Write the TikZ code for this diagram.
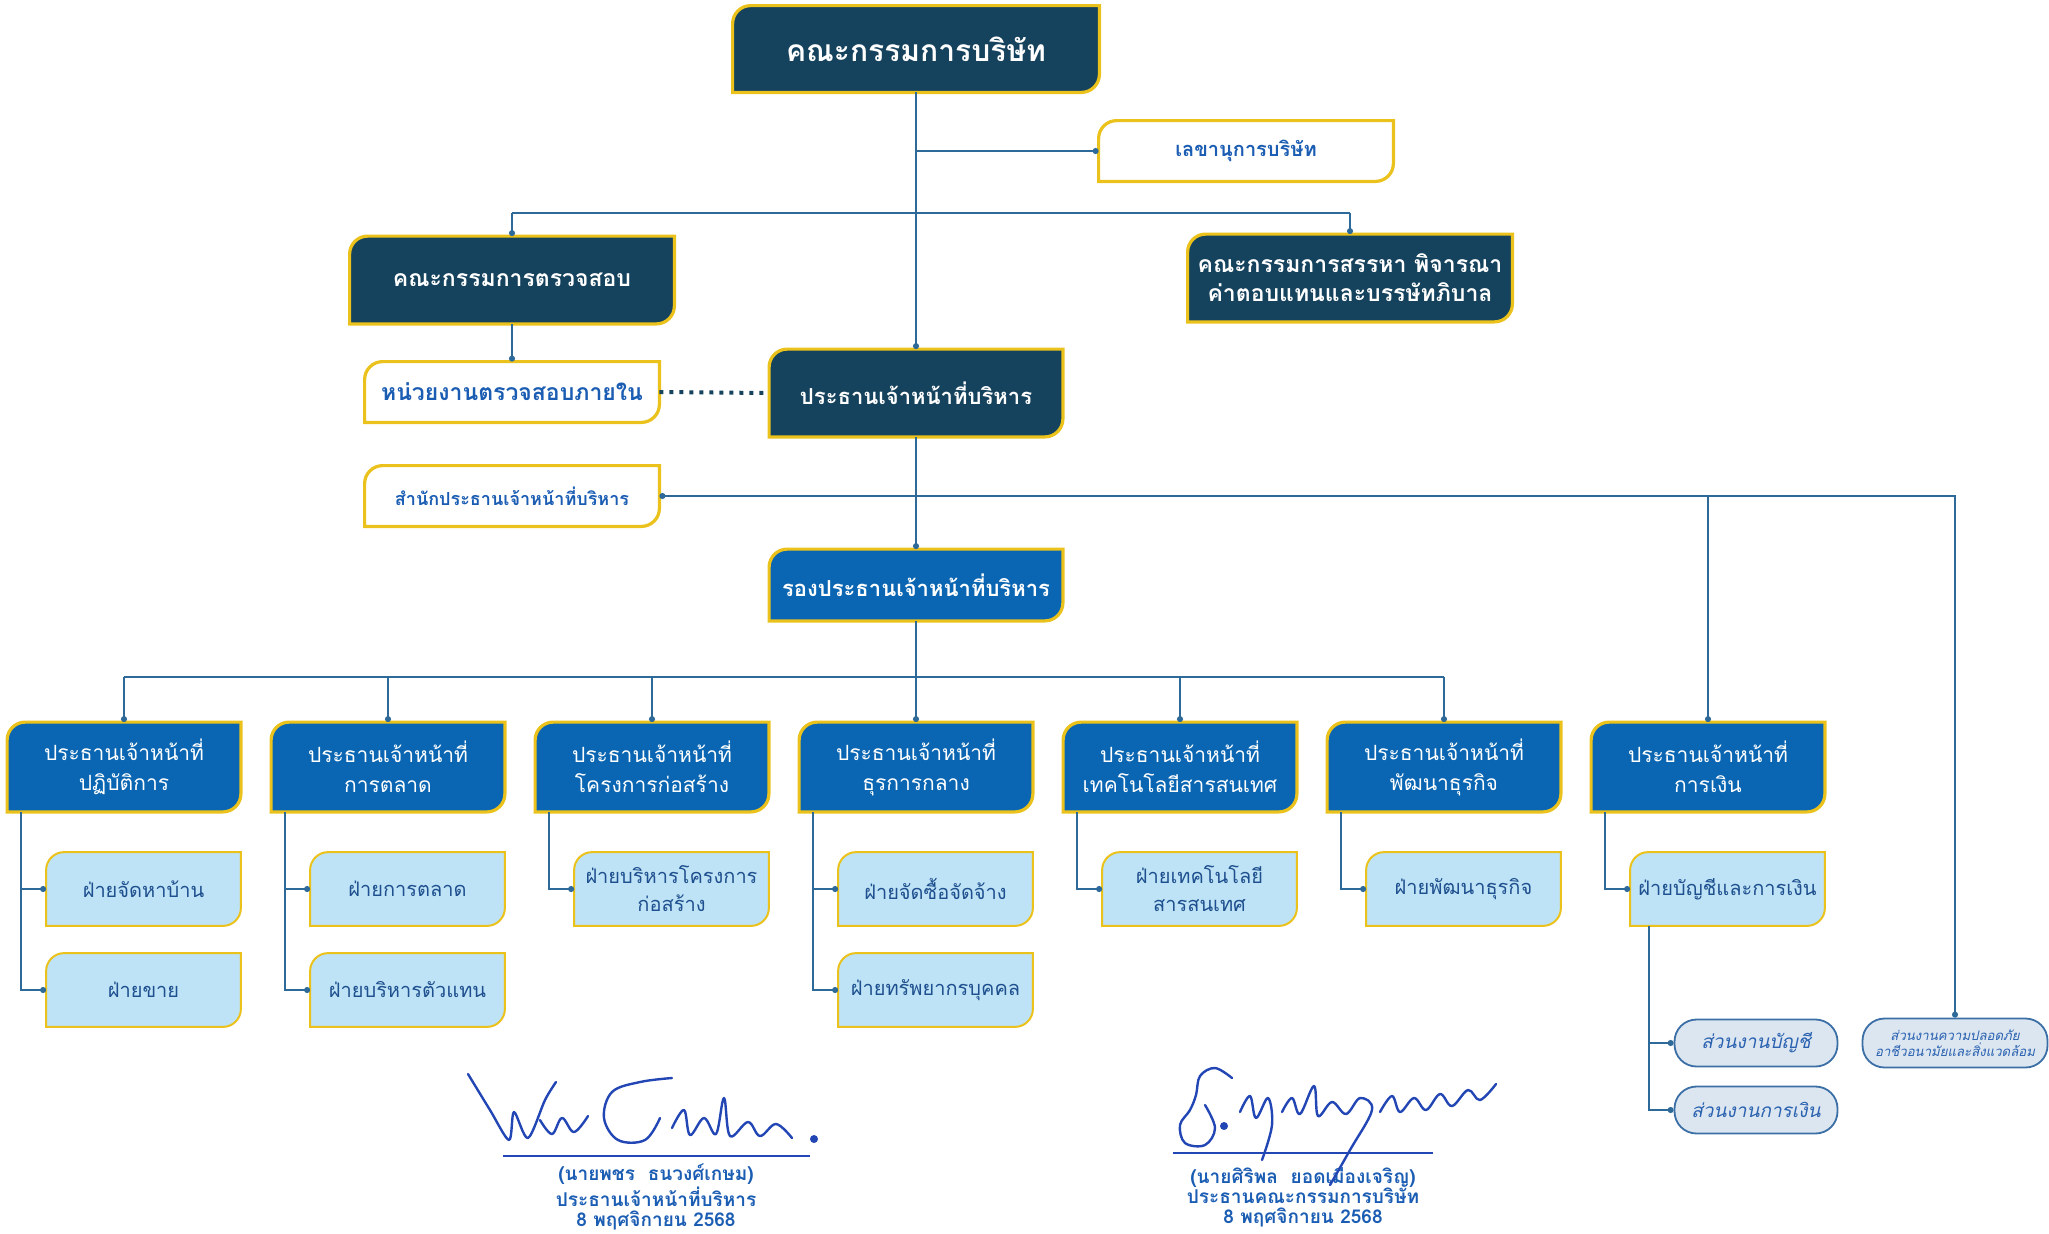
\documentclass[tikz,border=0pt]{standalone}
\usepackage{fontspec}
\setmainfont[Script=Thai]{Loma}
\usetikzlibrary{arrows.meta,backgrounds}

\definecolor{navy}{HTML}{15425C}
\definecolor{midblue}{HTML}{0A66B2}
\definecolor{paleblue}{HTML}{BEE3F6}
\definecolor{gold}{HTML}{EBC21B}
\definecolor{linkblue}{HTML}{2E6A99}
\definecolor{inkblue}{HTML}{1B5DB3}
\definecolor{unitink}{HTML}{1E4F8E}
\definecolor{pillfill}{HTML}{DCE6F1}
\definecolor{pillline}{HTML}{3B6FA6}
\definecolor{pillink}{HTML}{2A62B0}
\definecolor{pen}{HTML}{2346B5}

% box with rounded top-left and bottom-right corners
\newcommand\tabshape[3]{%
  \draw[fill=#2, draw=gold, line width=#3] (#1.north east) -- ([yshift=9pt]#1.south east)
    arc[start angle=0, end angle=-90, radius=9pt] -- (#1.south west)
    -- ([yshift=-9pt]#1.north west) arc[start angle=180, end angle=90, radius=9pt] -- cycle;}

\begin{document}
\begin{tikzpicture}[x=0.5pt,y=-0.5pt,
    link/.style={draw=linkblue, line width=0.9pt},
    tipdot/.style={-{Circle[length=3pt]}},
    topbox/.style={inner sep=0pt, align=center, text=white, font=\bfseries\fontsize{11.5}{14.5}\selectfont, minimum width=162pt, minimum height=43.5pt},
    plainbox/.style={inner sep=0pt, align=center, text=inkblue, font=\bfseries\fontsize{10}{12}\selectfont, minimum width=147pt, minimum height=30pt},
    chief/.style={node distance=132pt, inner sep=0pt, align=center, text=white, font=\fontsize{10.5}{15}\selectfont, minimum width=116.5pt, minimum height=44.5pt},
    unit/.style={inner sep=0pt, align=center, text=unitink, font=\fontsize{10}{14}\selectfont, minimum width=97pt, minimum height=36.5pt},
    pill/.style={draw=pillline, fill=pillfill, line width=0.9pt, rounded corners=11pt, inner sep=0pt, align=center, text=pillink},
    sign/.style={align=center, text=inkblue, font=\bfseries\fontsize{9.5}{10}\selectfont},
    sig/.style={draw=pen, line width=1.2pt, line cap=round, line join=round}]
  \useasboundingbox (0,0) rectangle (2049,1233);

  \node (board) [topbox, minimum width=183pt, minimum height=43pt, font=\bfseries\fontsize{15}{18}\selectfont] at (916,49) {คณะกรรมการบริษัท};
  \node (secr) [plainbox] at (1246,151) {เลขานุการบริษัท};
  \node (audit) [topbox] at (512,280) {คณะกรรมการตรวจสอบ};
  \node (nomin) [topbox] at (1350,278) {คณะกรรมการสรรหา พิจารณา\\ค่าตอบแทนและบรรษัทภิบาล};
  \node (intaud) [plainbox, font=\bfseries\fontsize{11.5}{14}\selectfont] at (512,392) {หน่วยงานตรวจสอบภายใน};
  \node (ceo) [topbox, minimum width=146.5pt, font=\bfseries\fontsize{11}{14}\selectfont] at (916,393) {ประธานเจ้าหน้าที่บริหาร};
  \node (office) [plainbox, font=\bfseries\fontsize{9}{12}\selectfont] at (512,496) {สำนักประธานเจ้าหน้าที่บริหาร};
  \node (deputy) [topbox, minimum width=146.5pt, minimum height=35.5pt, font=\bfseries\fontsize{11}{14}\selectfont] at (916,585) {รองประธานเจ้าหน้าที่บริหาร};

  \node (c1) [chief] at (124,767) {ประธานเจ้าหน้าที่\\ปฏิบัติการ};
  \node (c2) [chief, right of=c1] {ประธานเจ้าหน้าที่\\การตลาด};
  \node (c3) [chief, right of=c2] {ประธานเจ้าหน้าที่\\โครงการก่อสร้าง};
  \node (c4) [chief, right of=c3] {ประธานเจ้าหน้าที่\\ธุรการกลาง};
  \node (c5) [chief, right of=c4] {ประธานเจ้าหน้าที่\\เทคโนโลยีสารสนเทศ};
  \node (c6) [chief, right of=c5] {ประธานเจ้าหน้าที่\\พัฒนาธุรกิจ};
  \node (c7) [chief, right of=c6] {ประธานเจ้าหน้าที่\\การเงิน};

  \node (s1a) [unit, node distance=61pt, below of=c1, xshift=9.75pt] {ฝ่ายจัดหาบ้าน};
  \node (s1b) [unit, node distance=50.5pt, below of=s1a] {ฝ่ายขาย};
  \node (s2a) [unit, node distance=61pt, below of=c2, xshift=9.75pt] {ฝ่ายการตลาด};
  \node (s2b) [unit, node distance=50.5pt, below of=s2a] {ฝ่ายบริหารตัวแทน};
  \node (s3a) [unit, node distance=61pt, below of=c3, xshift=9.75pt] {ฝ่ายบริหารโครงการ\\ก่อสร้าง};
  \node (s4a) [unit, node distance=61pt, below of=c4, xshift=9.75pt] {ฝ่ายจัดซื้อจัดจ้าง};
  \node (s4b) [unit, node distance=50.5pt, below of=s4a] {ฝ่ายทรัพยากรบุคคล};
  \node (s5a) [unit, node distance=61pt, below of=c5, xshift=9.75pt] {ฝ่ายเทคโนโลยี\\สารสนเทศ};
  \node (s6a) [unit, node distance=61pt, below of=c6, xshift=9.75pt] {ฝ่ายพัฒนาธุรกิจ};
  \node (s7a) [unit, node distance=61pt, below of=c7, xshift=9.75pt] {ฝ่ายบัญชีและการเงิน};

  \node (acct) [pill, minimum width=81.5pt, minimum height=23.5pt, font=\itshape\fontsize{9.5}{12}\selectfont] at (1756,1043) {ส่วนงานบัญชี};
  \node (fin) [pill, minimum width=81.5pt, minimum height=23.5pt, font=\itshape\fontsize{9.5}{12}\selectfont] at (1756,1110) {ส่วนงานการเงิน};
  \node (safety) [pill, minimum width=92.5pt, minimum height=24.5pt, font=\itshape\fontsize{6.6}{8.2}\selectfont] at (1955,1043) {ส่วนงานความปลอดภัย\\อาชีวอนามัยและสิ่งแวดล้อม};

  \coordinate (topbus) at (0,213);
  \coordinate (bus) at (0,677);

  % board level
  \draw [link, tipdot] (board.south) -- (ceo.north);
  \draw [link, tipdot] (board.south |- secr.west) -- (secr.west);
  \draw [link] (audit.north |- topbus) -- (nomin.north |- topbus);
  \draw [link, tipdot] (audit.north |- topbus) -- (audit.north);
  \draw [link, tipdot] (nomin.north |- topbus) -- (nomin.north);
  \draw [link, tipdot] (audit.south) -- (intaud.north);
  \draw [draw=navy, line width=2pt, dash pattern=on 2pt off 3pt] (intaud.east) -- (ceo.west);

  % office line
  \draw [link, tipdot] (ceo.south |- office.east) -- (office.east);
  \draw [link, tipdot] (ceo.south |- office.east) -| (safety.north);
  \draw [link, tipdot] (c7.north |- office.east) -- (c7.north);
  \draw [link, tipdot] (ceo.south) -- (deputy.north);

  % chiefs
  \draw [link, tipdot] (deputy.south) -- (c4.north);
  \draw [link] (c1.north |- bus) -- (c6.north |- bus);
  \foreach \n in {c1,c2,c3,c5,c6}
    \draw [link, tipdot] (\n.north |- bus) -- (\n.north);

  % departments
  \draw [link, tipdot] ([xshift=7pt]c1.south west) |- (s1a.west);
  \draw [link, tipdot] ([xshift=7pt]c1.south west) |- (s1b.west);
  \draw [link, tipdot] ([xshift=7pt]c2.south west) |- (s2a.west);
  \draw [link, tipdot] ([xshift=7pt]c2.south west) |- (s2b.west);
  \draw [link, tipdot] ([xshift=7pt]c3.south west) |- (s3a.west);
  \draw [link, tipdot] ([xshift=7pt]c4.south west) |- (s4a.west);
  \draw [link, tipdot] ([xshift=7pt]c4.south west) |- (s4b.west);
  \draw [link, tipdot] ([xshift=7pt]c5.south west) |- (s5a.west);
  \draw [link, tipdot] ([xshift=7pt]c6.south west) |- (s6a.west);
  \draw [link, tipdot] ([xshift=7pt]c7.south west) |- (s7a.west);
  \draw [link, tipdot] ([xshift=9.5pt]s7a.south west) |- (acct.west);
  \draw [link, tipdot] ([xshift=9.5pt]s7a.south west) |- (fin.west);

  % signatures
  \node (ceosign) [sign] at (656,1197) {(นายพชร\ \ ธนวงศ์เกษม)\\ประธานเจ้าหน้าที่บริหาร\\8 พฤศจิกายน 2568};
  \node (chairsign) [sign] at (1303,1197) {(นายศิริพล\ \ ยอดเมืองเจริญ)\\ประธานคณะกรรมการบริษัท\\8 พฤศจิกายน 2568};
  \draw [draw=pen, line width=0.7pt] (503,1156) -- (810,1156);
  \draw [draw=pen, line width=0.7pt] (1173,1153) -- (1433,1153);
  \draw [sig] plot [smooth, tension=.5] coordinates {(468,1074) (490,1110) (509,1140) (514,1112) (528,1138) (545,1100) (556,1082)};
  \draw [sig] plot [smooth, tension=.6] coordinates {(540,1120) (552,1134) (562,1118) (574,1132) (588,1116)};
  \draw [sig] plot [smooth, tension=.6] coordinates {(672,1078) (640,1082) (612,1092) (604,1118) (618,1140) (645,1140) (660,1118)};
  \draw [sig] plot [smooth, tension=.6] coordinates {(672,1128) (684,1110) (690,1135) (704,1118) (716,1134) (724,1098) (730,1136) (748,1122) (760,1136) (776,1124) (792,1138)};
  \fill [pen] (814,1139) circle [radius=2pt];
  \draw [sig] plot [smooth, tension=.6] coordinates {(1232,1078) (1215,1068) (1200,1076) (1196,1095) (1190,1110) (1180,1125) (1185,1143) (1205,1145) (1215,1128) (1205,1105)};
  \fill [pen] (1224,1126) circle [radius=2pt];
  \draw [sig] plot [smooth, tension=.6] coordinates {(1240,1112) (1250,1096) (1256,1118) (1268,1098) (1272,1125) (1262,1160)};
  \draw [sig] plot [smooth, tension=.6] coordinates {(1282,1112) (1292,1098) (1300,1114) (1314,1086) (1318,1116) (1332,1102) (1346,1114) (1360,1098) (1372,1110) (1350,1150) (1330,1185)};
  \draw [sig] plot [smooth, tension=.6] coordinates {(1380,1112) (1392,1096) (1400,1112) (1414,1098) (1426,1110) (1440,1094) (1452,1106) (1468,1090) (1480,1100) (1496,1084)};

  % box outlines behind the texts
  \begin{scope}[on background layer]
    \foreach \n in {board,audit,nomin,ceo}
      {\tabshape{\n}{navy}{1.6pt}}
    \foreach \n in {secr,intaud,office}
      {\tabshape{\n}{white}{1.6pt}}
    \foreach \n in {deputy,c1,c2,c3,c4,c5,c6,c7}
      {\tabshape{\n}{midblue}{1.6pt}}
    \foreach \n in {s1a,s1b,s2a,s2b,s3a,s4a,s4b,s5a,s6a,s7a}
      {\tabshape{\n}{paleblue}{1pt}}
  \end{scope}
\end{tikzpicture}
\end{document}
